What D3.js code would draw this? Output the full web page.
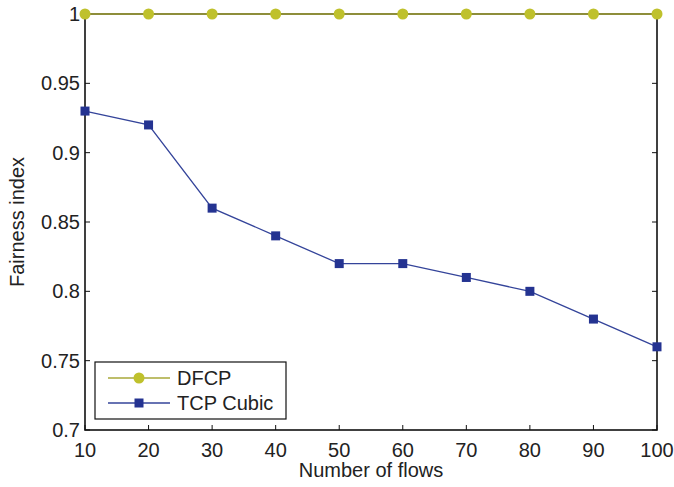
<!DOCTYPE html>
<html>
<head>
<meta charset="utf-8">
<script src="https://cdn.jsdelivr.net/npm/d3@7"></script>
<style>
  body{margin:0;background:#fff;}
  text{font-family:"Liberation Sans",Arial,Helvetica,sans-serif;fill:#222;}
</style>
</head>
<body>
<svg id="chart" width="674" height="487"></svg>
<script>
'use strict';

var flows=[10,20,30,40,50,60,70,80,90,100]
  , dfcp=[1,1,1,1,1,1,1,1,1,1]
  , cubic=[0.93,0.92,0.86,0.84,0.82,0.82,0.81,0.80,0.78,0.76]
  , yTicks=[0.7,0.75,0.8,0.85,0.9,0.95,1]
  , yLabels=['0.7','0.75','0.8','0.85','0.9','0.95','1']
  , xTicks=[10,20,30,40,50,60,70,80,90,100]

// plot box (named pl/pr/pt/pb since "top" is taken by window)
var pl=85, pr=657, pt=14, pb=430
  , tl=5

var svg=d3.select('#chart')

var x=d3.scaleLinear().domain([10,100]).range([pl,pr])
  , y=d3.scaleLinear().domain([0.7,1]).range([pb,pt])

// frame
svg.append('rect')
    .attr('x',pl)
    .attr('y',pt)
    .attr('width',pr-pl)
    .attr('height',pb-pt)
    .attr('fill','none')
    .attr('stroke','#111')
    .attr('stroke-width',1.6);

// ticks, inward on all four sides
var g=svg.append('g').attr('stroke','#111').attr('stroke-width',1);
xTicks.forEach(function(t){
    g.append('line').attr('x1',x(t)).attr('x2',x(t)).attr('y1',pb).attr('y2',pb-tl);
    g.append('line').attr('x1',x(t)).attr('x2',x(t)).attr('y1',pt).attr('y2',pt+tl);
});
yTicks.forEach(function(t){
    g.append('line').attr('x1',pl).attr('x2',pl+tl).attr('y1',y(t)).attr('y2',y(t));
    g.append('line').attr('x1',pr).attr('x2',pr-tl).attr('y1',y(t)).attr('y2',y(t));
});

// tick labels
svg.append('g').selectAll('text')
    .data(xTicks)
    .enter().append('text')
    .attr('x',function(d){return x(d);})
    .attr('y',457)
    .attr('text-anchor','middle')
    .attr('font-size',20)
    .text(function(d){return d;});

svg.append('g').selectAll('text')
    .data(yTicks)
    .enter().append('text')
    .attr('x',pl-5)
    .attr('y',function(d){return y(d);})
    .attr('dy','0.35em')
    .attr('text-anchor','end')
    .attr('font-size',20)
    .text(function(d,i){return yLabels[i];});

// axis titles
svg.append('text')
    .attr('x',(pl+pr)/2)
    .attr('y',477)
    .attr('text-anchor','middle')
    .attr('font-size',20)
    .text('Number of flows');

svg.append('text')
    .attr('transform','translate(24,'+((pt+pb)/2)+') rotate(-90)')
    .attr('text-anchor','middle')
    .attr('font-size',20)
    .text('Fairness index');

// series
var line=d3.line()
    .x(function(d){return x(d[0]);})
    .y(function(d){return y(d[1]);});

var dfcpPts=flows.map(function(f,i){return [f,dfcp[i]];})
  , cubicPts=flows.map(function(f,i){return [f,cubic[i]];})

svg.append('path')
    .attr('d',line(dfcpPts))
    .attr('fill','none')
    .attr('stroke','#a9a93a')
    .attr('stroke-width',1.3);

svg.append('path')
    .attr('d',line(cubicPts))
    .attr('fill','none')
    .attr('stroke','#34449a')
    .attr('stroke-width',1.3);

svg.append('g').selectAll('circle')
    .data(dfcpPts)
    .enter().append('circle')
    .attr('cx',function(d){return x(d[0]);})
    .attr('cy',function(d){return y(d[1]);})
    .attr('r',5.5)
    .attr('fill','#bfc12c');

svg.append('g').selectAll('rect')
    .data(cubicPts)
    .enter().append('rect')
    .attr('x',function(d){return x(d[0])-4.5;})
    .attr('y',function(d){return y(d[1])-4.5;})
    .attr('width',9)
    .attr('height',9)
    .attr('fill','#243391');

// legend
var lg=svg.append('g');
lg.append('rect')
    .attr('x',95)
    .attr('y',362)
    .attr('width',191)
    .attr('height',57)
    .attr('fill','#fff')
    .attr('stroke','#111')
    .attr('stroke-width',1.2);

lg.append('line').attr('x1',108).attr('x2',170).attr('y1',378).attr('y2',378)
    .attr('stroke','#a9a93a').attr('stroke-width',1.3);
lg.append('circle').attr('cx',139).attr('cy',378).attr('r',5.5).attr('fill','#bfc12c');
lg.append('text').attr('x',177).attr('y',378).attr('dy','0.35em').attr('font-size',20).text('DFCP');

lg.append('line').attr('x1',108).attr('x2',170).attr('y1',403).attr('y2',403)
    .attr('stroke','#34449a').attr('stroke-width',1.3);
lg.append('rect').attr('x',134.5).attr('y',398.5).attr('width',9).attr('height',9).attr('fill','#243391');
lg.append('text').attr('x',177).attr('y',403).attr('dy','0.35em').attr('font-size',20).text('TCP Cubic');
</script>
</body>
</html>
